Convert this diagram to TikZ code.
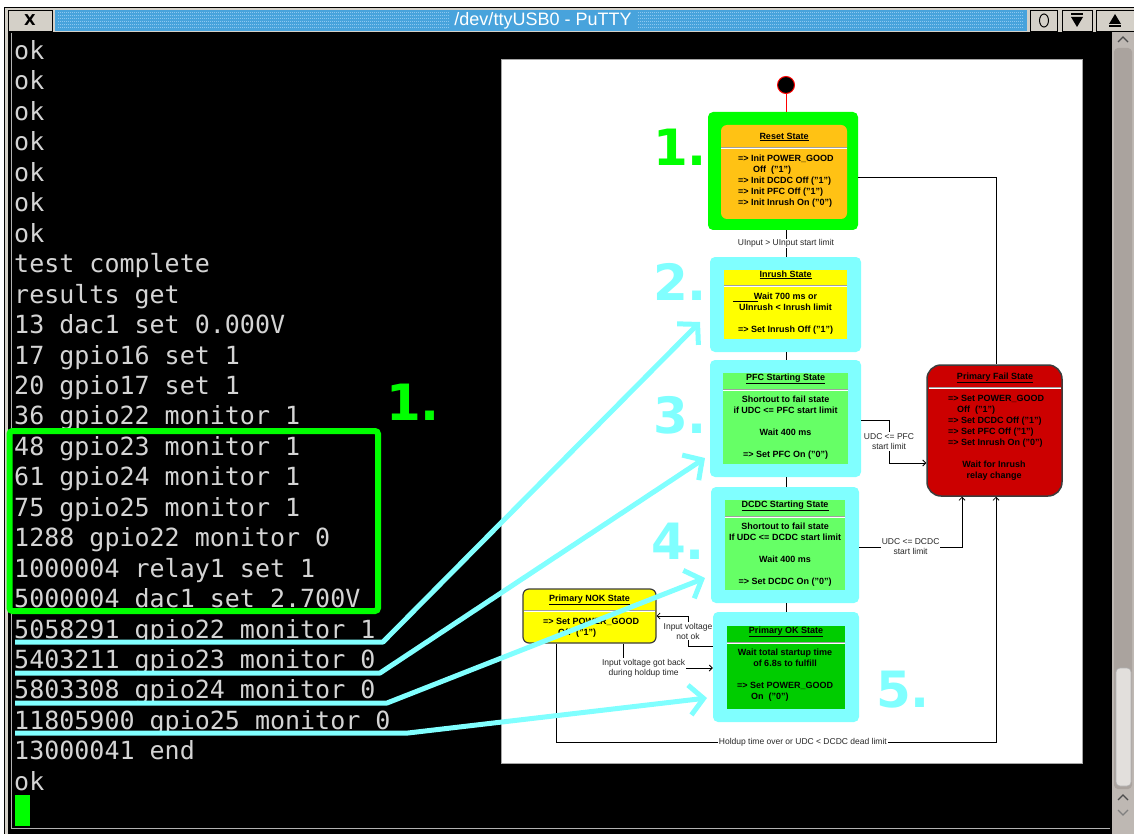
\documentclass[tikz,border=0pt]{standalone}
\usepackage{fontspec}
\setmainfont{Liberation Sans}
\newfontfamily\termfont{DejaVu Sans Mono}
\newfontfamily\numfont{DejaVu Sans}
\usetikzlibrary{arrows.meta}
\definecolor{hlcyan}{RGB}{128,255,255}
\definecolor{hlgreen}{RGB}{0,255,0}
\definecolor{termfg}{RGB}{212,212,212}
\definecolor{resetfill}{RGB}{255,194,20}
\definecolor{inrushfill}{RGB}{255,255,0}
\definecolor{pfcfill}{RGB}{102,255,102}
\definecolor{okfill}{RGB}{0,204,0}
\definecolor{failfill}{RGB}{204,0,0}
\definecolor{boxborder}{RGB}{60,60,60}
\definecolor{barblue}{RGB}{72,163,220}
\definecolor{bardot}{RGB}{140,200,240}
\definecolor{wingrey}{RGB}{212,208,200}
\definecolor{scrollbg}{RGB}{190,184,179}
\definecolor{scrolltrough}{RGB}{170,163,158}
\definecolor{scrollthumb}{RGB}{226,223,220}
\definecolor{sepgreyc}{RGB}{160,160,160}
\tikzset{
  hlbox/.style={fill=hlcyan, rounded corners=5pt, inner sep=0pt, draw=none},
  stbox/.style={inner sep=0pt, draw=none},
  stitle/.style={font=\fontsize{9}{11}\selectfont\bfseries, inner sep=0pt, anchor=base},
  sbody/.style={font=\fontsize{9}{11}\selectfont\bfseries, inner sep=0pt, align=center, anchor=north},
  sbodyl/.style={font=\fontsize{9}{11}\selectfont\bfseries, inner sep=0pt, align=left, anchor=north west},
  lbl/.style={font=\fontsize{8.5}{10}\selectfont, fill=white, inner sep=1pt, align=center, text=black!85},
  cline/.style={draw=black, line width=0.8pt},
  carrow/.style={cline, -{Straight Barb[length=3pt,width=6pt]}},
  bignum/.style={font=\numfont\bfseries\fontsize{50}{50}\selectfont, inner sep=0pt},
  termline/.style={font=\termfont\fontsize{25}{30}\selectfont, text=termfg, anchor=base west, inner sep=0pt},
  annoline/.style={draw=hlcyan, line width=5pt, line join=round},
  annoarrow/.style={annoline, -{Straight Barb[length=14pt,width=30pt]}},
  sepg/.style={draw=sepgreyc, line width=0.8pt},
  sepw/.style={draw=white, line width=1.6pt},
  winbtn/.style={fill=wingrey, draw=black, line width=0.8pt, inner sep=0pt},
}
\newcommand\sepln[3]{\draw[sepw] (#1,#3+1.3) -- (#2,#3+1.3); \draw[sepg] (#1,#3) -- (#2,#3);}
\begin{document}
\begin{tikzpicture}[x=1pt,y=-1pt]
\useasboundingbox (0,0) rectangle (1134,834);
% ---------- window ----------
\fill[white] (0,0) rectangle (1134,834);
\fill[wingrey] (4,7) rectangle (1134,834);
\draw[black, line width=0.8pt] (4,834) -- (4,7) -- (1134,7);
\fill[barblue] (55,10) rectangle (1027,31);
\foreach \yy in {12.5,15.5,...,29} {
  \draw[bardot, line width=1pt, dash pattern=on 1pt off 1pt] (58,\yy) -- (450,\yy) (638,\yy) -- (1024,\yy);
}
\node[font=\fontsize{18}{18}\selectfont, text=white, inner sep=0pt] (title) at (543,21) {/dev/ttyUSB0 - PuTTY};
\node[winbtn, minimum width=44pt, minimum height=21pt] (bclose) at (30,20.5) {\numfont\bfseries\fontsize{15}{15}\selectfont X};
\node[winbtn, minimum width=27pt, minimum height=21pt] (bo) at (1044,20.5) {};
\draw[black, line width=1pt] (bo.center) ellipse (4.5pt and 6.5pt);
\node[winbtn, minimum width=30pt, minimum height=21pt] (bdown) at (1077,20.5) {};
\fill[black] (1071,13.5) rectangle (1083,15.5);
\fill[black] (1071,17) -- (1083,17) -- (1077,27) -- cycle;
\node[winbtn, minimum width=38pt, minimum height=21pt] (bup) at (1115,20.5) {};
\fill[black] (1109,24) -- (1121,24) -- (1115,14) -- cycle;
\fill[black] (1109,25.5) rectangle (1121,27.5);
% ---------- terminal ----------
\fill[black] (8,32) rectangle (1112,834);
\draw[gray!60, line width=1pt] (11,33) -- (11,828) -- (1110,828);
% scrollbar
\fill[scrollbg] (1112,32) rectangle (1134,834);
\draw[black!70, line width=1.2pt] (1118,42) -- (1123,37) -- (1128,42);
\fill[scrolltrough, rounded corners=4pt] (1114,48) rectangle (1132,789);
\fill[scrollthumb, rounded corners=4pt] (1116,668) rectangle (1131,786);
\draw[gray!60, line width=0.6pt, rounded corners=4pt] (1116,668) rectangle (1131,786);
\draw[black!70, line width=1.2pt] (1118,800) -- (1123,795) -- (1128,800);
\draw[black!50, line width=1.2pt] (1118,810) -- (1123,815) -- (1128,810);
% terminal text
\foreach \txt [count=\i] in {ok,ok,ok,ok,ok,ok,ok,test complete,results get,13 dac1 set 0.000V,17 gpio16 set 1,20 gpio17 set 1,36 gpio22 monitor 1,48 gpio23 monitor 1,61 gpio24 monitor 1,75 gpio25 monitor 1,1288 gpio22 monitor 0,1000004 relay1 set 1,5000004 dac1 set 2.700V,5058291 gpio22 monitor 1,5403211 gpio23 monitor 0,5803308 gpio24 monitor 0,11805900 gpio25 monitor 0,13000041 end,ok} {
  \node[termline] (t\i) at (14,{59.5+30.45*(\i-1)}) {\txt};
}
\node[fill=hlgreen, inner sep=0pt, minimum width=15pt, minimum height=31pt] (cursor) at (22.5,810.5) {};
% ---------- diagram ----------
\draw[fill=white, draw=gray!70, line width=1pt] (501,60) rectangle (1082,763);
\node[circle, fill=black, draw=red, line width=1pt, minimum size=17pt, inner sep=0pt] (start) at (786,85) {};
% highlight frames and state boxes
\node[hlbox, fill=hlgreen, minimum width=150pt, minimum height=118pt] (h1) at (783,171) {};
\node[hlbox, minimum width=151pt, minimum height=95pt] (h2) at (785.5,304.5) {};
\node[hlbox, minimum width=151pt, minimum height=117pt] (h3) at (785.5,418.5) {};
\node[hlbox, minimum width=148pt, minimum height=116pt] (h4) at (785,545) {};
\node[hlbox, minimum width=146pt, minimum height=110pt] (h5) at (786,667) {};
\node[stbox, rounded corners=6pt, fill=resetfill, minimum width=126pt, minimum height=94pt] (r1) at (784,172) {};
\node[stbox, fill=inrushfill, minimum width=123pt, minimum height=69pt] (r2) at (785.5,304.5) {};
\node[stbox, fill=pfcfill, minimum width=125pt, minimum height=91pt] (r3) at (785.5,418.5) {};
\node[stbox, fill=pfcfill, minimum width=120pt, minimum height=90pt] (r4) at (785,545) {};
\node[stbox, fill=okfill, minimum width=118pt, minimum height=83pt] (r5) at (786,667.5) {};
\node[stbox, rounded corners=6pt, fill=inrushfill, draw=boxborder, line width=1.2pt, minimum width=133pt, minimum height=54pt] (nok) at (589.5,616) {};
\node[stbox, rounded corners=14pt, fill=failfill, draw=boxborder, line width=1.5pt, minimum width=135pt, minimum height=131pt] (fail) at (994.5,430.5) {};
% connectors
\coordinate (c6) at (996,177);
\coordinate (c7) at (889,420);
\coordinate (c7b) at (889,463);
\coordinate (c8) at (962,547);
\coordinate (c9a) at (688,646);
\coordinate (c9b) at (688,616);
\coordinate (c10) at (623,668);
\coordinate (c11a) at (556,742);
\coordinate (c11b) at (996,742);
\draw[draw=red, line width=1pt] (start) -- (h1.north -| start);
\draw[cline] (h1.south -| start) -- node[lbl] (l1) {UInput > UInput start limit} (h2.north -| start);
\draw[cline] (h2.south -| start) -- (h3.north -| start);
\draw[cline] (h3.south -| start) -- (h4.north -| start);
\draw[cline] (h4.south -| start) -- (h5.north -| start);
\draw[cline] (h1.east |- c6) -- (c6) -- (fail.north -| c6);
\draw[carrow] (h3.east |- c7) -- (c7) -- node[lbl] (l2) {UDC <= PFC\\start limit} (c7b) -- (fail.west |- c7b);
\draw[carrow] (h4.east |- c8) -- node[lbl] (l3) {UDC <= DCDC\\start limit} (c8) -- (fail.south -| c8);
\draw[carrow] (h5.west |- c9a) -- (c9a) -- node[lbl] (l4) {Input voltage\\not ok} (c9b) -- (nok.east |- c9b);
\draw[carrow] (nok.south -| c10) -- (c10) -- node[lbl, pos=0.23] (l5) {Input voltage got back\\during holdup time} (h5.west |- c10);
\draw[carrow] (nok.south -| c11a) -- (c11a) -- node[lbl, pos=0.561] (l6) {Holdup time over or UDC < DCDC dead limit} (c11b) -- (fail.south -| c11b);
% redraw the boxes over connector ends
% reset
\sepln{721}{847}{147}
\node[stitle] (r1t) at (784,139.2) {\underline{Reset State}};
\node[sbodyl] (r1b) at (738,154.8) {=> Init POWER\_GOOD\\\hspace*{15pt}Off~~("1")\\=> Init DCDC Off ("1")\\=> Init PFC Off ("1")\\=> Init Inrush On ("0")};
% inrush
\sepln{724}{847}{285}
\node[stitle] (r2t) at (785.5,277.2) {\underline{Inrush State}};
\node[sbody] (r2b) at (785.5,292.8) {Wait 700 ms or\\UInrush < Inrush limit\\[11pt]=> Set Inrush Off ("1")};
\draw[black, line width=0.6pt] (733,301) -- (758,301);
% pfc
\sepln{723}{848}{389}
\node[stitle] (r3t) at (785.5,380.2) {\underline{PFC Starting State}};
\node[sbody] (r3b) at (785.5,395.8) {Shortout to fail state\\if UDC <= PFC start limit\\[11pt]Wait 400 ms\\[11pt]=> Set PFC On ("0")};
% dcdc
\sepln{725}{845}{516}
\node[stitle] (r4t) at (785,507.2) {\underline{DCDC Starting State}};
\node[sbody] (r4b) at (785,522.8) {Shortout to fail state\\If UDC <= DCDC start limit\\[11pt]Wait 400 ms\\[11pt]=> Set DCDC On ("0")};
% ok
\sepln{727}{845}{642}
\node[stitle] (r5t) at (786,633.2) {\underline{Primary OK State}};
\node[sbody] (r5b) at (785,648.8) {Wait total startup time\\of 6.8s to fulfill};
\node[sbodyl] (r5c) at (737,681.8) {=> Set POWER\_GOOD\\\hspace*{14pt}On~~("0")};
% nok
\sepln{524}{655}{610}
\node[stitle] (nokt) at (589.5,601.2) {\underline{Primary NOK State}};
\node[sbodyl] (nokb) at (543,617.8) {=> Set POWER\_GOOD\\\hspace*{15pt}Off~~("1")};
% fail
\sepln{928.5}{1060.5}{387}
\node[stitle] (failt) at (995,379.2) {\underline{Primary Fail State}};
\node[sbodyl] (failb) at (948,394.8) {=> Set POWER\_GOOD\\\hspace*{9pt}Off~~("1")\\=> Set DCDC Off ("1")\\=> Set PFC Off ("1")\\=> Set Inrush On ("0")};
\node[sbody] (failc) at (994,460.8) {Wait for Inrush\\relay change};
% ---------- annotations ----------
\node[draw=hlgreen, line width=6pt, rounded corners=3pt, inner sep=0pt, minimum width=368.5pt, minimum height=180pt] (gbox) at (193.75,521) {};
\node[bignum, text=hlgreen] (n1t) at (413,402) {1.};
\node[bignum, text=hlgreen] (n1) at (680,147) {1.};
\node[bignum, text=hlcyan] (n2) at (680,282) {2.};
\node[bignum, text=hlcyan] (n3) at (680,415) {3.};
\node[bignum, text=hlcyan] (n4) at (678,541) {4.};
\node[bignum, text=hlcyan] (n5) at (903,690) {5.};
\coordinate (a1s) at (15,642); \coordinate (a1b) at (383,642); \coordinate (a1e) at (700,322);
\coordinate (a2s) at (15,673); \coordinate (a2b) at (380,673); \coordinate (a2e) at (705,458);
\coordinate (a3s) at (15,703); \coordinate (a3b) at (387,703); \coordinate (a3e) at (705,578);
\coordinate (a4s) at (15,733); \coordinate (a4b) at (408,733); \coordinate (a4e) at (707,698);
\draw[annoarrow] (a1s) -- (a1b) -- (a1e);
\draw[annoarrow] (a2s) -- (a2b) -- (a2e);
\draw[annoarrow] (a3s) -- (a3b) -- (a3e);
\draw[annoarrow] (a4s) -- (a4b) -- (a4e);
\end{tikzpicture}
\end{document}
